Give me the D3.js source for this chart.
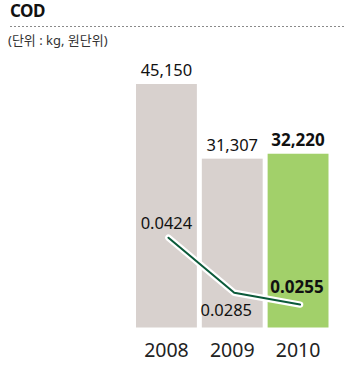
<!DOCTYPE html>
<html>
<head>
<meta charset="utf-8">
<script src="https://cdn.jsdelivr.net/npm/d3@7"></script>
<style>
  html, body { margin: 0; padding: 0; background: #fff; }
  svg { display: block; }
  text { font-family: "Noto Sans", "Noto Sans CJK KR", sans-serif; }
</style>
</head>
<body>
<script>
// COD emissions (kg) and intensity (원단위) by year
const years = ["2008", "2009", "2010"];
const emissions = [45150, 31307, 32220];
const emissionLabels = ["45,150", "31,307", "32,220"];
const intensity = [0.0424, 0.0285, 0.0255];
const intensityLabels = ["0.0424", "0.0285", "0.0255"];
const highlightYear = "2010";

const W = 345, H = 365;
const svg = d3.select("body").append("svg").attr("width", W).attr("height", H);

// Header
svg.append("text").attr("x", 10).attr("y", 17)
  .attr("font-size", 17).attr("font-weight", 700).attr("fill", "#111")
  .attr("font-family", "'Noto Sans', sans-serif")
  .attr("letter-spacing", -0.5)
  .text("COD");
svg.append("line").attr("x1", 10).attr("x2", 345).attr("y1", 26.5).attr("y2", 26.5)
  .attr("stroke", "#8a8a8a").attr("stroke-width", 1).attr("stroke-dasharray", "2,2");
svg.append("text").attr("x", 8).attr("y", 45)
  .attr("font-size", 13).attr("fill", "#333")
  .attr("font-family", "'Noto Sans CJK KR', 'Noto Sans', sans-serif")
  .text("(단위 : kg, 원단위)");

// Scales
const x = d3.scaleBand().domain(years).range([136, 328.5]).paddingInner(0.075).paddingOuter(0);
const y = d3.scaleLinear().domain([0, 45150]).range([327.5, 84]);
const y2 = d3.scaleLinear().domain([0, 0.0424]).range([405.5, 237.7]);

const isHi = d => d === highlightYear;

// Bars
svg.append("g").selectAll("rect").data(years).join("rect")
  .attr("x", d => x(d))
  .attr("y", (d, i) => y(emissions[i]))
  .attr("width", x.bandwidth())
  .attr("height", (d, i) => y(0) - y(emissions[i]))
  .attr("fill", d => isHi(d) ? "#a2d06a" : "#d8d1ce");

// Bar value labels
svg.append("g").selectAll("text").data(years).join("text")
  .attr("x", d => x(d) + x.bandwidth() / 2)
  .attr("y", (d, i) => y(emissions[i]) - 8)
  .attr("text-anchor", "middle")
  .attr("font-size", d => isHi(d) ? 17 : 16.5)
  .attr("font-weight", d => isHi(d) ? 700 : 400)
  .attr("fill", "#111")
  .text((d, i) => emissionLabels[i]);

// Intensity line with white halo
const cx = d => x(d) + x.bandwidth() / 2 + 2;
const line = d3.line().x((d, i) => cx(years[i])).y(d => y2(d));
svg.append("path").datum(intensity).attr("d", line)
  .attr("fill", "none").attr("stroke", "#fff").attr("stroke-width", 6.5)
  .attr("stroke-linejoin", "round").attr("stroke-linecap", "round");
svg.append("path").datum(intensity).attr("d", line)
  .attr("fill", "none").attr("stroke", "#0b5a3a").attr("stroke-width", 2)
  .attr("stroke-linejoin", "round").attr("stroke-linecap", "round");

// Intensity labels
const lblDx = [-2, -8, -3];
const lblDy = [-9, 23, -12];
svg.append("g").selectAll("text").data(years).join("text")
  .attr("x", (d, i) => cx(d) + lblDx[i])
  .attr("y", (d, i) => y2(intensity[i]) + lblDy[i])
  .attr("text-anchor", "middle")
  .attr("font-size", d => isHi(d) ? 17 : 16.5)
  .attr("font-weight", d => isHi(d) ? 700 : 400)
  .attr("fill", "#111")
  .text((d, i) => intensityLabels[i]);

// Year axis
const axis = svg.append("g").attr("transform", "translate(0,357)")
  .call(d3.axisBottom(x).tickSize(0).tickPadding(0));
axis.select(".domain").remove();
axis.selectAll("text")
  .attr("dy", 0).attr("y", 0)
  .attr("font-size", 19.5).attr("fill", "#222")
  .attr("font-family", "'Noto Sans', sans-serif");
</script>
</body>
</html>
